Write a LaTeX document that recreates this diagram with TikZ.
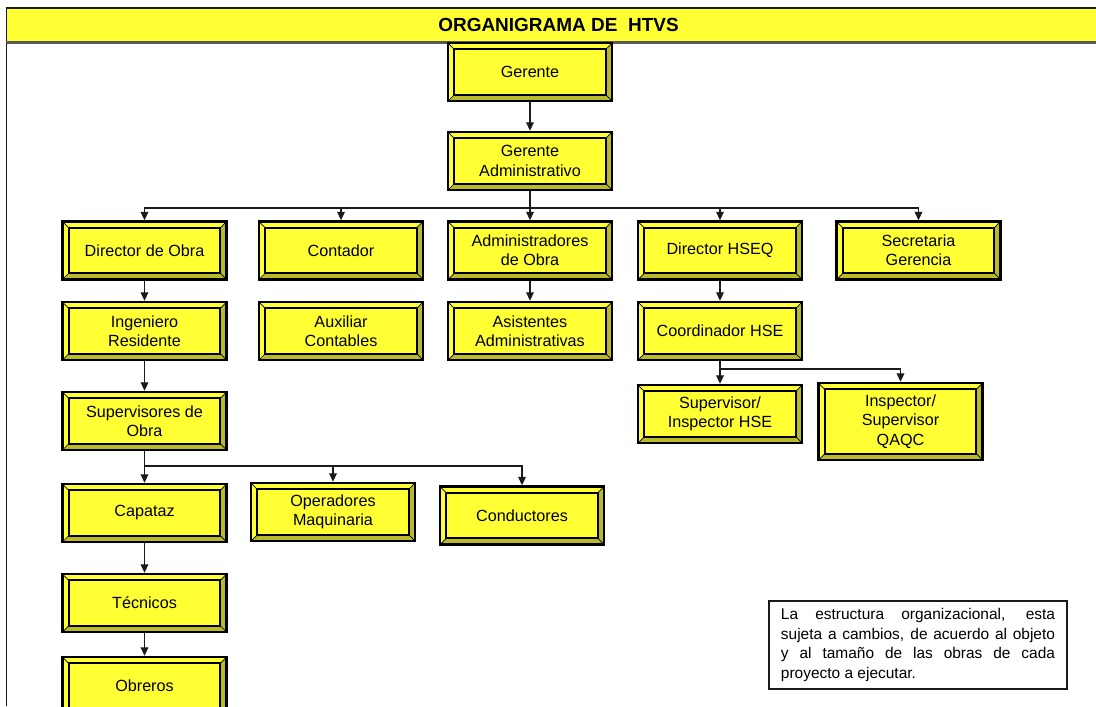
\documentclass[tikz,border=0pt]{standalone}
\usepackage{fontspec}
\setmainfont{Liberation Sans}
\usetikzlibrary{positioning, arrows.meta}
\definecolor{hYellow}{HTML}{FFFF33}
\definecolor{hOlive}{HTML}{B9B92A}
\definecolor{hInk}{HTML}{1A1A1A}
\newcommand\bevw{4.5pt}

\begin{document}
\begin{tikzpicture}[x=0.025cm, y=-0.025cm, >={Triangle[length=6pt,width=5.5pt]},
    orgbox/.style={draw=black, line width=1.8pt, fill=hYellow, minimum width=4.1cm, minimum height=1.45cm,
      inner sep=0pt, align=center, font=\fontsize{11.5}{13.8}\selectfont,
      path picture={
        \coordinate (sw) at (path picture bounding box.south west);
        \coordinate (ne) at (path picture bounding box.north east);
        \coordinate (se) at (sw -| ne);
        \coordinate (nw) at (ne -| sw);
        \fill[hOlive] (sw) -- (se) -- (ne) -- ([shift={(-\bevw,-\bevw)}]ne) -- ([shift={(-\bevw,\bevw)}]se) -- ([shift={(\bevw,\bevw)}]sw) -- cycle;
        \draw[line width=1.3pt] ([shift={(\bevw,\bevw)}]sw) rectangle ([shift={(-\bevw,-\bevw)}]ne);
        \draw[line width=0.5pt] (sw) -- ++(\bevw,\bevw) (se) -- ++(-\bevw,\bevw)
          (ne) -- ++(-\bevw,-\bevw) (nw) -- ++(\bevw,-\bevw);
      }},
    titlebar/.style={draw=hInk, line width=0.8pt, fill=hYellow, minimum width=27.575cm, minimum height=0.85cm,
      font=\fontsize{13.5}{15}\selectfont\bfseries},
    notebox/.style={draw=hInk, line width=1.2pt, fill=white, text width=6.85cm, minimum height=2.2cm,
      inner xsep=0.3cm, align=justify, font=\fontsize{11}{13.8}\selectfont},
    link/.style={->, line width=0.8pt, hInk},
    wire/.style={line width=0.8pt, hInk}]
  \useasboundingbox (0,0) rectangle (1096,706);

  % title and frame
  \node[titlebar] (title) at (558.5,25) {ORGANIGRAMA DE\ \ HTVS};
  \draw[line width=2pt, black!65] (title.south west) -- (title.south east);
  \coordinate (lbot) at (8,706);
  \draw[line width=0.8pt, hInk] (title.south west) -- (title.south west |- lbot);

  % boxes
  \node[orgbox] (ger) at (530,72) {Gerente};
  \node[orgbox] (gadm) at (530,161) {Gerente\\Administrativo};
  \node[orgbox] (dobra) at (144.5,250.5) {Director de Obra};
  \node[orgbox] (cont) at (341,250.5) {Contador};
  \node[orgbox] (admo) at (530,250.5) {Administradores\\de Obra};
  \node[orgbox] (hseq) at (720,250.5) {Director HSEQ};
  \node[orgbox] (secg) at (918.5,250.5) {Secretaria\\Gerencia};
  \node[orgbox] (ingr) at (144.5,331) {Ingeniero\\Residente};
  \node[orgbox] (auxc) at (341,331) {Auxiliar\\Contables};
  \node[orgbox] (asis) at (530,331) {Asistentes\\Administrativas};
  \node[orgbox] (coor) at (720,331) {Coordinador HSE};
  \node[orgbox] (supo) at (144.5,421) {Supervisores de\\Obra};
  \node[orgbox] (suph) at (720,414) {Supervisor/\\Inspector HSE};
  \node[orgbox, minimum height=1.925cm] (insq) at (900.5,421.5) {Inspector/\\Supervisor\\QAQC};
  \node[orgbox] (capa) at (144.5,513) {Capataz};
  \node[orgbox] (oper) at (333,512) {Operadores\\Maquinaria};
  \node[orgbox] (cond) at (522,515.5) {Conductores};
  \node[orgbox] (tecn) at (144.5,603) {Técnicos};
  \node[orgbox] (obre) at (144.5,686) {Obreros};

  % connectors
  \draw[link] (ger) -- (gadm);
  \coordinate (busa) at (530,208);
  \draw[wire] (gadm.south) -- (busa);
  \foreach \n in {dobra,cont,admo,hseq,secg}
    \draw[link] (busa) -| (\n.north);
  \draw[link] (dobra) -- (ingr);
  \draw[link] (ingr) -- (supo);
  \draw[link] (admo) -- (asis);
  \draw[link] (hseq) -- (coor);
  \coordinate (busb) at (720,369);
  \draw[wire] (coor.south) -- (busb);
  \foreach \n in {suph,insq}
    \draw[link] (busb) -| (\n.north);
  \coordinate (busc) at (144.5,466);
  \draw[wire] (supo.south) -- (busc);
  \foreach \n in {capa,oper,cond}
    \draw[link] (busc) -| (\n.north);
  \draw[link] (capa) -- (tecn);
  \draw[link] (tecn) -- (obre);

  % note
  \node[notebox] (nota) at (918,645) {La estructura organizacional, esta\linebreak
    sujeta a cambios, de acuerdo al objeto\linebreak
    y al tamaño de las obras de cada\linebreak
    proyecto a ejecutar.};
\end{tikzpicture}
\end{document}
